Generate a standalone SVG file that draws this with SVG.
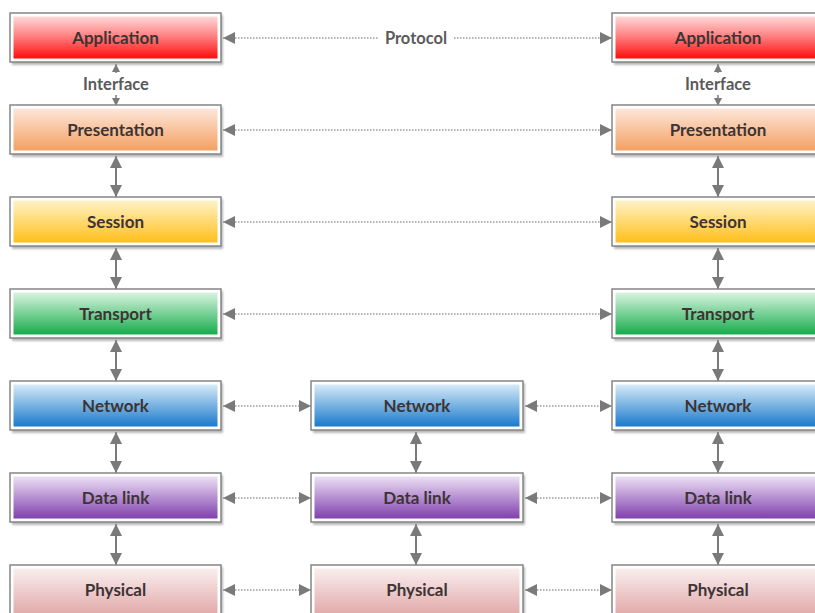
<svg xmlns="http://www.w3.org/2000/svg" width="815" height="613" viewBox="0 0 815 613">
  <defs>
    <linearGradient id="gApp" x1="0" y1="0" x2="0" y2="1">
      <stop offset="0" stop-color="#ffd8d8"/><stop offset="0.5" stop-color="#ff7a7a"/><stop offset="1" stop-color="#ff0c0c"/>
    </linearGradient>
    <linearGradient id="gPre" x1="0" y1="0" x2="0" y2="1">
      <stop offset="0" stop-color="#fde6da"/><stop offset="1" stop-color="#f4a062"/>
    </linearGradient>
    <linearGradient id="gSes" x1="0" y1="0" x2="0" y2="1">
      <stop offset="0" stop-color="#fff2c8"/><stop offset="1" stop-color="#ffbf1a"/>
    </linearGradient>
    <linearGradient id="gTra" x1="0" y1="0" x2="0" y2="1">
      <stop offset="0" stop-color="#d8f4e0"/><stop offset="1" stop-color="#18ac4c"/>
    </linearGradient>
    <linearGradient id="gNet" x1="0" y1="0" x2="0" y2="1">
      <stop offset="0" stop-color="#d6eaf8"/><stop offset="1" stop-color="#1a7acb"/>
    </linearGradient>
    <linearGradient id="gDat" x1="0" y1="0" x2="0" y2="1">
      <stop offset="0" stop-color="#ece0f4"/><stop offset="1" stop-color="#8040ae"/>
    </linearGradient>
    <linearGradient id="gPhy" x1="0" y1="0" x2="0" y2="1">
      <stop offset="0" stop-color="#faeeee"/><stop offset="1" stop-color="#dc9a9a"/>
    </linearGradient>
    <filter id="shadow" x="-5%" y="-10%" width="115%" height="140%">
      <feGaussianBlur stdDeviation="1"/>
    </filter>
    <marker id="ah" viewBox="0 0 12 12" refX="12" refY="6" markerWidth="12" markerHeight="12" markerUnits="userSpaceOnUse" orient="auto-start-reverse">
      <path d="M0,0 L12,6 L0,12 z" fill="#7a7a7a"/>
    </marker>
    <marker id="av" viewBox="0 0 12 12" refX="12" refY="6" markerWidth="12" markerHeight="12" markerUnits="userSpaceOnUse" orient="auto-start-reverse">
      <path d="M0,0 L12,6 L0,12 z" fill="#7a7a7a"/>
    </marker>
    <marker id="as" viewBox="0 0 8 8" refX="8" refY="4" markerWidth="8" markerHeight="8" markerUnits="userSpaceOnUse" orient="auto-start-reverse">
      <path d="M0,0 L8,4 L0,8 z" fill="#7a7a7a"/>
    </marker>
    <style>
      .shd { fill: #9a9a9a; opacity: 0.7; filter: url(#shadow); }
      .frame { fill: #ffffff; stroke: #858585; stroke-width: 1.5; }
      .lbl { font-family: Lato, "Open Sans", "DejaVu Sans", sans-serif; font-weight: bold; font-size: 17px; fill: #3c3434; text-anchor: middle; }
      .note { font-family: Lato, "Open Sans", "DejaVu Sans", sans-serif; font-weight: bold; font-size: 16.5px; fill: #5a5a5a; text-anchor: middle; }
      .h { stroke: #9a9a9a; stroke-width: 1.5; stroke-dasharray: 1.5 1.5; fill: none; marker-start: url(#ah); marker-end: url(#ah); }
      .v { stroke: #7a7a7a; stroke-width: 2; fill: none; marker-start: url(#av); marker-end: url(#av); }
      .vs { stroke: #7a7a7a; stroke-width: 1.5; fill: none; marker-start: url(#as); marker-end: url(#as); }
    </style>
  </defs>

  <!-- connectors -->
  <g id="connectors">
    <!-- peer protocols -->
    <line class="h" x1="223" y1="38" x2="612" y2="38"/>
    <rect x="378" y="27" width="76" height="22" fill="#ffffff"/>
    <text class="note" x="416" y="44">Protocol</text>
    <line class="h" x1="223" y1="130" x2="612" y2="130"/>
    <line class="h" x1="223" y1="222" x2="612" y2="222"/>
    <line class="h" x1="223" y1="314" x2="612" y2="314"/>
    <line class="h" x1="223" y1="406" x2="311" y2="406"/>
    <line class="h" x1="525" y1="406" x2="612" y2="406"/>
    <line class="h" x1="223" y1="498" x2="311" y2="498"/>
    <line class="h" x1="525" y1="498" x2="612" y2="498"/>
    <line class="h" x1="223" y1="590" x2="311" y2="590"/>
    <line class="h" x1="525" y1="590" x2="612" y2="590"/>

    <!-- interfaces, left stack -->
    <line class="vs" x1="116" y1="64" x2="116" y2="106"/>
    <rect x="76" y="73" width="80" height="22" fill="#ffffff"/>
    <text class="note" x="116" y="90">Interface</text>
    <line class="v" x1="116" y1="156" x2="116" y2="197"/>
    <line class="v" x1="116" y1="248" x2="116" y2="289"/>
    <line class="v" x1="116" y1="340" x2="116" y2="381"/>
    <line class="v" x1="116" y1="432" x2="116" y2="473"/>
    <line class="v" x1="116" y1="524" x2="116" y2="565"/>

    <!-- interfaces, relay stack -->
    <line class="v" x1="416" y1="432" x2="416" y2="473"/>
    <line class="v" x1="416" y1="524" x2="416" y2="565"/>

    <!-- interfaces, right stack -->
    <line class="vs" x1="718" y1="64" x2="718" y2="106"/>
    <rect x="678" y="73" width="80" height="22" fill="#ffffff"/>
    <text class="note" x="718" y="90">Interface</text>
    <line class="v" x1="718" y1="156" x2="718" y2="197"/>
    <line class="v" x1="718" y1="248" x2="718" y2="289"/>
    <line class="v" x1="718" y1="340" x2="718" y2="381"/>
    <line class="v" x1="718" y1="432" x2="718" y2="473"/>
    <line class="v" x1="718" y1="524" x2="718" y2="565"/>
  </g>

  <!-- left stack -->
  <g id="app-a">
    <rect class="shd" x="12" y="15" width="211" height="50"/>
    <rect class="frame" x="10" y="13" width="211" height="49"/>
    <rect x="13.5" y="16.5" width="204" height="42" fill="url(#gApp)"/>
    <text class="lbl" x="115.5" y="44">Application</text>
  </g>
  <g id="pres-a">
    <rect class="shd" x="12" y="107" width="211" height="50"/>
    <rect class="frame" x="10" y="105" width="211" height="49"/>
    <rect x="13.5" y="108.5" width="204" height="42" fill="url(#gPre)"/>
    <text class="lbl" x="115.5" y="136">Presentation</text>
  </g>
  <g id="sess-a">
    <rect class="shd" x="12" y="199" width="211" height="50"/>
    <rect class="frame" x="10" y="197" width="211" height="49"/>
    <rect x="13.5" y="200.5" width="204" height="42" fill="url(#gSes)"/>
    <text class="lbl" x="115.5" y="228">Session</text>
  </g>
  <g id="trans-a">
    <rect class="shd" x="12" y="291" width="211" height="50"/>
    <rect class="frame" x="10" y="289" width="211" height="49"/>
    <rect x="13.5" y="292.5" width="204" height="42" fill="url(#gTra)"/>
    <text class="lbl" x="115.5" y="320">Transport</text>
  </g>
  <g id="net-a">
    <rect class="shd" x="12" y="383" width="211" height="50"/>
    <rect class="frame" x="10" y="381" width="211" height="49"/>
    <rect x="13.5" y="384.5" width="204" height="42" fill="url(#gNet)"/>
    <text class="lbl" x="115.5" y="412">Network</text>
  </g>
  <g id="link-a">
    <rect class="shd" x="12" y="475" width="211" height="50"/>
    <rect class="frame" x="10" y="473" width="211" height="49"/>
    <rect x="13.5" y="476.5" width="204" height="42" fill="url(#gDat)"/>
    <text class="lbl" x="115.5" y="504">Data link</text>
  </g>
  <g id="phys-a">
    <rect class="shd" x="12" y="567" width="211" height="60"/>
    <rect class="frame" x="10" y="565" width="211" height="60"/>
    <rect x="13.5" y="568.5" width="204" height="56" fill="url(#gPhy)"/>
    <text class="lbl" x="115.5" y="596">Physical</text>
  </g>

  <!-- relay stack -->
  <g id="net-r">
    <rect class="shd" x="313" y="383" width="212" height="50"/>
    <rect class="frame" x="311" y="381" width="212" height="49"/>
    <rect x="314.5" y="384.5" width="205" height="42" fill="url(#gNet)"/>
    <text class="lbl" x="417" y="412">Network</text>
  </g>
  <g id="link-r">
    <rect class="shd" x="313" y="475" width="212" height="50"/>
    <rect class="frame" x="311" y="473" width="212" height="49"/>
    <rect x="314.5" y="476.5" width="205" height="42" fill="url(#gDat)"/>
    <text class="lbl" x="417" y="504">Data link</text>
  </g>
  <g id="phys-r">
    <rect class="shd" x="313" y="567" width="212" height="60"/>
    <rect class="frame" x="311" y="565" width="212" height="60"/>
    <rect x="314.5" y="568.5" width="205" height="56" fill="url(#gPhy)"/>
    <text class="lbl" x="417" y="596">Physical</text>
  </g>

  <!-- right stack -->
  <g id="app-b">
    <rect class="shd" x="614" y="15" width="211" height="50"/>
    <rect class="frame" x="612" y="13" width="211" height="49"/>
    <rect x="615.5" y="16.5" width="204" height="42" fill="url(#gApp)"/>
    <text class="lbl" x="718" y="44">Application</text>
  </g>
  <g id="pres-b">
    <rect class="shd" x="614" y="107" width="211" height="50"/>
    <rect class="frame" x="612" y="105" width="211" height="49"/>
    <rect x="615.5" y="108.5" width="204" height="42" fill="url(#gPre)"/>
    <text class="lbl" x="718" y="136">Presentation</text>
  </g>
  <g id="sess-b">
    <rect class="shd" x="614" y="199" width="211" height="50"/>
    <rect class="frame" x="612" y="197" width="211" height="49"/>
    <rect x="615.5" y="200.5" width="204" height="42" fill="url(#gSes)"/>
    <text class="lbl" x="718" y="228">Session</text>
  </g>
  <g id="trans-b">
    <rect class="shd" x="614" y="291" width="211" height="50"/>
    <rect class="frame" x="612" y="289" width="211" height="49"/>
    <rect x="615.5" y="292.5" width="204" height="42" fill="url(#gTra)"/>
    <text class="lbl" x="718" y="320">Transport</text>
  </g>
  <g id="net-b">
    <rect class="shd" x="614" y="383" width="211" height="50"/>
    <rect class="frame" x="612" y="381" width="211" height="49"/>
    <rect x="615.5" y="384.5" width="204" height="42" fill="url(#gNet)"/>
    <text class="lbl" x="718" y="412">Network</text>
  </g>
  <g id="link-b">
    <rect class="shd" x="614" y="475" width="211" height="50"/>
    <rect class="frame" x="612" y="473" width="211" height="49"/>
    <rect x="615.5" y="476.5" width="204" height="42" fill="url(#gDat)"/>
    <text class="lbl" x="718" y="504">Data link</text>
  </g>
  <g id="phys-b">
    <rect class="shd" x="614" y="567" width="211" height="60"/>
    <rect class="frame" x="612" y="565" width="211" height="60"/>
    <rect x="615.5" y="568.5" width="204" height="56" fill="url(#gPhy)"/>
    <text class="lbl" x="718" y="596">Physical</text>
  </g>
</svg>
